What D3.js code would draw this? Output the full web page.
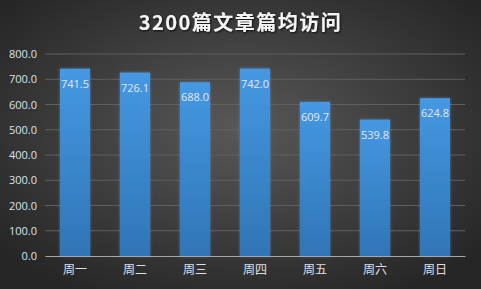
<!DOCTYPE html>
<html>
<head>
<meta charset="utf-8">
<script src="https://cdn.jsdelivr.net/npm/d3@7"></script>
<style>
    html, body { margin: 0; padding: 0; background: #333; }
    svg { display: block; }
</style>
</head>
<body>
<script>
const title = "3200篇文章篇均访问";
const days = ["周一", "周二", "周三", "周四", "周五", "周六", "周日"];
const visits = [741.5, 726.1, 688.0, 742.0, 609.7, 539.8, 624.8];
const yTicks = [0, 100, 200, 300, 400, 500, 600, 700, 800];

const W = 481, H = 289;
let margin = { top: 54, right: 16, bottom: 33, left: 45 };
let width = W - margin.left - margin.right, height = H - margin.top - margin.bottom;

let svg = d3.select("body").append("svg")
    .attr("width", W)
    .attr("height", H);

let defs = svg.append("defs");
// background: lighter middle, darker corners
let bg = defs.append("radialGradient").attr("id", "bg")
    .attr("cx", "50%").attr("cy", "45%").attr("r", "65%");
bg.append("stop").attr("offset", "0%").attr("stop-color", "#585858");
bg.append("stop").attr("offset", "100%").attr("stop-color", "#262626");

let barGrad = defs.append("linearGradient").attr("id", "bar")
    .attr("x1", 0).attr("y1", 0).attr("x2", 0).attr("y2", 1);
barGrad.append("stop").attr("offset", "0%").attr("stop-color", "#4598e2");
barGrad.append("stop").attr("offset", "100%").attr("stop-color", "#3075b6");

let glow = defs.append("filter").attr("id", "glow")
    .attr("x", "-30%").attr("y", "-10%").attr("width", "160%").attr("height", "120%");
glow.append("feGaussianBlur").attr("in", "SourceAlpha").attr("stdDeviation", 1.5).attr("result", "b");
glow.append("feFlood").attr("flood-color", "#5aa6f0").attr("flood-opacity", 0.6);
glow.append("feComposite").attr("in2", "b").attr("operator", "in").attr("result", "g");
let merge = glow.append("feMerge");
merge.append("feMergeNode").attr("in", "g");
merge.append("feMergeNode").attr("in", "SourceGraphic");

let shadow = defs.append("filter").attr("id", "tshadow");
shadow.append("feDropShadow").attr("dx", 1).attr("dy", 1).attr("stdDeviation", 0.8)
    .attr("flood-color", "#000").attr("flood-opacity", 0.8);

svg.append("rect").attr("width", W).attr("height", H).attr("fill", "url(#bg)");

svg.append("text")
    .attr("x", W / 2)
    .attr("y", 30)
    .attr("text-anchor", "middle")
    .attr("fill", "#f4f4f4")
    .attr("font-family", "'Noto Sans CJK SC', sans-serif")
    .attr("font-weight", "bold")
    .attr("font-size", 20)
    .attr("letter-spacing", 1.5)
    .attr("filter", "url(#tshadow)")
    .text(title);

let g = svg.append("g")
    .attr("transform", "translate(" + margin.left + "," + margin.top + ")");

// bar is half the band, outer gap is a quarter band
let xScale = d3.scaleBand()
    .domain(days)
    .range([0, width])
    .paddingInner(0.5)
    .paddingOuter(0.25);

let yScale = d3.scaleLinear()
    .domain([0, 800])
    .range([height, 0]);

// gridlines
g.append("g")
    .selectAll("line")
    .data(yTicks.slice(1))
    .join("line")
    .attr("x1", 0).attr("x2", width)
    .attr("y1", d => yScale(d)).attr("y2", d => yScale(d))
    .attr("stroke", "#5f5f5f")
    .attr("stroke-width", 1);

// y axis labels
let yAxis = g.append("g")
    .call(d3.axisLeft(yScale).tickValues(yTicks).tickFormat(d3.format(".1f")).tickSize(0).tickPadding(8));
yAxis.select(".domain").remove();
yAxis.selectAll("text")
    .attr("fill", "#d6e2f0")
    .attr("font-family", "'Open Sans', sans-serif")
    .attr("font-size", 11);

// bars
g.append("g")
    .selectAll("rect")
    .data(visits)
    .join("rect")
    .attr("x", (d, i) => xScale(days[i]))
    .attr("y", d => yScale(d))
    .attr("width", xScale.bandwidth())
    .attr("height", d => height - yScale(d))
    .attr("fill", "url(#bar)")
    .attr("filter", "url(#glow)");

// value labels
g.append("g")
    .selectAll("text")
    .data(visits)
    .join("text")
    .attr("x", (d, i) => xScale(days[i]) + xScale.bandwidth() / 2)
    .attr("y", d => yScale(d) + 19)
    .attr("text-anchor", "middle")
    .attr("fill", "#e2e8f0")
    .attr("font-family", "'Open Sans', sans-serif")
    .attr("font-size", 11)
    .text(d => d.toFixed(1));

// x axis
let xAxis = g.append("g")
    .attr("transform", "translate(0," + height + ")")
    .call(d3.axisBottom(xScale).tickSize(0).tickPadding(9));
xAxis.select(".domain").attr("stroke", "#a6a6a6").attr("stroke-width", 1.2);
xAxis.selectAll("text")
    .attr("fill", "#e0e0e0")
    .attr("font-family", "'Noto Sans CJK SC', sans-serif")
    .attr("font-size", 12);
</script>
</body>
</html>
